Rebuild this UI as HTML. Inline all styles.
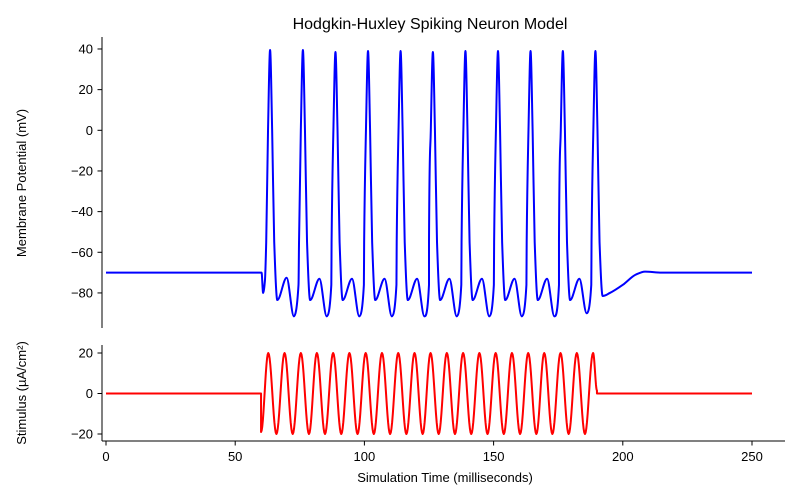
<!DOCTYPE html>
<html><head><meta charset="utf-8"><style>body{margin:0;background:#fff}svg{display:block}text{font-family:"Liberation Sans","DejaVu Sans",sans-serif;fill:#000}</style></head>
<body>
<svg id="chart" width="800" height="500" viewBox="0 0 800 500" xmlns="http://www.w3.org/2000/svg">
<text x="430" y="29" font-size="16" text-anchor="middle">Hodgkin-Huxley Spiking Neuron Model</text>
<g id="topAx"></g>
<g id="botAx"></g>
<text transform="translate(26,183) rotate(-90)" font-size="13" text-anchor="middle">Membrane Potential (mV)</text>
<text transform="translate(26,393) rotate(-90)" font-size="13" text-anchor="middle">Stimulus (µA/cm²)</text>
<text x="445" y="482" font-size="13" text-anchor="middle">Simulation Time (milliseconds)</text>
</svg>
<script>
const spikeTimes=[63.5,76.2,88.8,101.4,114.0,126.5,139.1,151.7,164.3,176.8,189.4];
const spikePeaks=[39.5,39.5,38.5,39,39,38.5,39,39,39,39,39];
const afterTrough=[-83.5,-83.5,-83.5,-83.5,-83.5,-83.5,-83.5,-83.5,-83.5,-83.5,-81.5];
const humpValues=[-72.5,-73,-73,-73,-73,-73,-73,-73,-73,-73];
const deepTrough=[-91.5,-91.5,-91.5,-91.5,-91.5,-91.5,-91.5,-91.5,-91.5,-90];
const restV=-70;
const recoveryT=[195,200,205,208.6,215,250];
const recoveryV=[-80,-76,-71,-69.5,-70,-70];
const stimPeakTimes=[62.8,69.1,75.4,81.6,87.9,94.2,100.5,106.8,113.1,119.4,125.6,131.9,138.2,144.5,150.8,157.1,163.4,169.6,175.9,182.2,188.5];
const stimAmp=20;
const stimStart=60, stimEnd=190, stimStartV=-19;
const vTicks=[40,20,0,-20,-40,-60,-80];
const sTicks=[20,0,-20];
const xTicks=[0,50,100,150,200,250];

const NS="http://www.w3.org/2000/svg";
const X=t=>106+t*(752-106)/250;
const YV=v=>130.3-v*2.033;
const YS=v=>393.5-v*2.025;
function mk(p,tag,at){const e=document.createElementNS(NS,tag);for(const k in at)e.setAttribute(k,at[k]);p.appendChild(e);return e;}
const topG=document.getElementById('topAx'),botG=document.getElementById('botAx');
const fmt=v=>v<0?'\u2212'+(-v):''+v;

let e=mk(topG,'line',{x1:102,y1:37,x2:102,y2:328,stroke:'#000','stroke-width':1});


vTicks.forEach(v=>{const y=YV(v);
 let l=mk(topG,'line',{x1:97.5,x2:102,y1:y,y2:y,stroke:'#000'});
 
 
 let t=mk(topG,'text',{x:93,y:y+4.5,'font-size':13,'text-anchor':'end'});t.textContent=fmt(v);
 
 });
e=mk(botG,'line',{x1:102,y1:345,x2:102,y2:441,stroke:'#000'});


e=mk(botG,'line',{x1:102,y1:441,x2:785,y2:441,stroke:'#000'});


sTicks.forEach(v=>{const y=YS(v);
 let l=mk(botG,'line',{x1:97.5,x2:102,y1:y,y2:y,stroke:'#000'});
 
 
 let t=mk(botG,'text',{x:93,y:y+4.5,'font-size':13,'text-anchor':'end'});t.textContent=fmt(v);
 
 });
xTicks.forEach(v=>{const x=X(v);
 let l=mk(botG,'line',{x1:x,x2:x,y1:441,y2:445.5,stroke:'#000'});
 
 
 let t=mk(botG,'text',{x:x,y:461,'font-size':13,'text-anchor':'middle'});t.textContent=fmt(v);
 
 });

const pts=[[0,restV],[60.2,restV],[60.8,-80],[61.5,-74]];
spikeTimes.forEach((P,i)=>{
 pts.push([P-1.5,-55],[P-0.8,0],[P,spikePeaks[i]],[P+0.8,0],[P+1.6,-55],[P+2.8,afterTrough[i]]);
 if(i<humpValues.length){pts.push([P+6.4,humpValues[i]],[P+9.2,deepTrough[i]],[P+11,-76]);}
});
recoveryT.forEach((t,i)=>pts.push([t,recoveryV[i]]));
function monotone(p){
 const n=p.length,dx=[],s=[],m=new Array(n);
 for(let i=0;i<n-1;i++){dx[i]=p[i+1][0]-p[i][0];s[i]=(p[i+1][1]-p[i][1])/dx[i];}
 m[0]=s[0];m[n-1]=s[n-2];
 for(let i=1;i<n-1;i++){if(s[i-1]*s[i]<=0)m[i]=0;else{const w1=2*dx[i]+dx[i-1],w2=dx[i]+2*dx[i-1];m[i]=(w1+w2)/(w1/s[i-1]+w2/s[i]);}}
 let d='M'+p[0][0].toFixed(2)+','+p[0][1].toFixed(2);
 for(let i=0;i<n-1;i++){const h=dx[i]/3;
  d+=' C'+(p[i][0]+h).toFixed(2)+','+(p[i][1]+m[i]*h).toFixed(2)+' '+(p[i+1][0]-h).toFixed(2)+','+(p[i+1][1]-m[i+1]*h).toFixed(2)+' '+p[i+1][0].toFixed(2)+','+p[i+1][1].toFixed(2);}
 return d;}
const vPath=mk(topG,'path',{d:monotone(pts.map(p=>[X(p[0]),YV(p[1])])),fill:'none',stroke:'#0000ff','stroke-width':2,'stroke-linejoin':'round'});



const half=(stimPeakTimes[1]-stimPeakTimes[0])/2;
const ext=[];stimPeakTimes.forEach((t,i)=>{ext.push([t,stimAmp]);if(i<stimPeakTimes.length-1)ext.push([t+half,-stimAmp]);});
let d='M'+X(0)+','+YS(0)+' L'+X(stimStart)+','+YS(0)+' L'+X(stimStart)+','+YS(stimStartV);
let prev=[stimStart,stimStartV];
const segs=[...ext,[stimEnd,stimAmp*Math.cos((stimEnd-stimPeakTimes[stimPeakTimes.length-1])/half*Math.PI)]];
segs.forEach(q=>{for(let k=1;k<=12;k++){const f=k/12,t=prev[0]+(q[0]-prev[0])*f,v=prev[1]+(q[1]-prev[1])*(1-Math.cos(f*Math.PI))/2;d+=' L'+X(t).toFixed(2)+','+YS(v).toFixed(2);}prev=q;});
d+=' L'+X(stimEnd)+','+YS(0)+' L'+X(250)+','+YS(0);
const sPath=mk(botG,'path',{d:d,fill:'none',stroke:'#ff0000','stroke-width':2,'stroke-linejoin':'round'});


</script>
</body></html>
